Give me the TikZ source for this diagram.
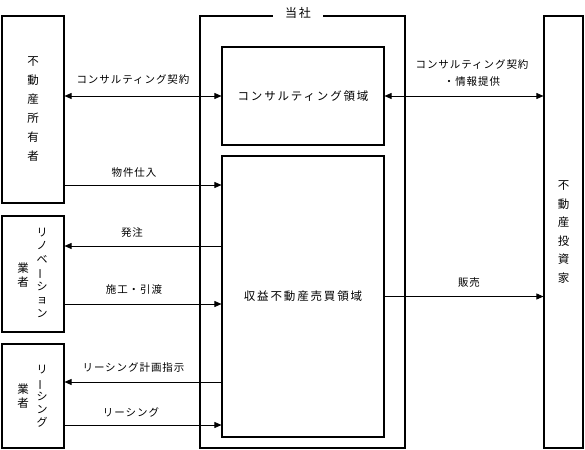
\documentclass[tikz,border=0pt]{standalone}
\usepackage{fontspec}
\usepackage{graphicx}
\setmainfont{Noto Sans CJK JP}
\newfontfamily\boxfont[LetterSpace=16]{Noto Sans CJK JP}
\newfontfamily\linkfont[LetterSpace=9]{Noto Sans CJK JP}
\usetikzlibrary{arrows.meta}
\newcommand{\vchoon}{\rotatebox[origin=c]{90}{ー}}

\begin{document}
\begin{tikzpicture}[x=1pt,y=-1pt,
	>={Triangle[length=7pt,width=6pt]},
	box/.style={draw, line width=1.1pt, inner sep=0pt},
	boxlabel/.style={font=\boxfont\fontsize{11.5}{14}\selectfont},
	vtext/.style={align=center, inner sep=0pt},
	link/.style={draw, line width=0.7pt},
	linklabel/.style={font=\linkfont\fontsize{10.5}{17}\selectfont, align=center, inner sep=0pt},
	title/.style={fill=white, inner xsep=12pt, inner ysep=2pt, font=\boxfont\fontsize{12}{14}\selectfont}]
	\useasboundingbox (0,0) rectangle (585,449);
	\node[box, minimum width=205, minimum height=432] (company) at (302.5,232) {};
	\node[title] (companyname) at (298,13) {当社};
	\node[box, boxlabel, minimum width=162, minimum height=98] (consult) at (303,96) {コンサルティング領域};
	\node[box, boxlabel, minimum width=162, minimum height=281] (deal) at (303,296.5) {収益不動産売買領域};
	\node[box, vtext, font=\fontsize{11.5}{19}\selectfont, minimum width=62, minimum height=187] (owner) at (33,109.5) {不\\動\\産\\所\\有\\者};
	\node[box, minimum width=62, minimum height=116] (reno) at (33,274) {};
	\node[vtext, font=\fontsize{11}{13.5}\selectfont] (renoname) at (42,272.5) {リ\\ノ\\ベ\\\vchoon\\シ\\ョ\\ン};
	\node[vtext, font=\fontsize{11.5}{14}\selectfont] (renojob) at (23,275) {業\\者};
	\node[box, minimum width=62, minimum height=104] (lease) at (33,396) {};
	\node[vtext, font=\fontsize{11}{13.25}\selectfont] (leasename) at (42,396.5) {リ\\\vchoon\\シ\\ン\\グ};
	\node[vtext, font=\fontsize{11.5}{14}\selectfont] (leasejob) at (23,396.5) {業\\者};
	\node[box, vtext, font=\fontsize{11.5}{18.5}\selectfont, minimum width=39, minimum height=432] (investor) at (563.5,232) {不\\動\\産\\投\\資\\家};

	\draw[link, <->] (owner.east |- consult.west) -- (consult.west);
	\node[linklabel] (contractlbl) at (133,80) {コンサルティング契約};
	\draw[link, ->] (owner.east |- 0,185) -- (deal.west |- 0,185);
	\node[linklabel] (buylbl) at (134,173) {物件仕入};
	\draw[link, ->] (deal.west |- 0,246) -- (reno.east |- 0,246);
	\node[linklabel] (orderlbl) at (132,233) {発注};
	\draw[link, ->] (reno.east |- 0,304) -- (deal.west |- 0,304);
	\node[linklabel] (worklbl) at (134,290) {施工・引渡};
	\draw[link, ->] (deal.west |- 0,382) -- (lease.east |- 0,382);
	\node[linklabel] (planlbl) at (133.5,368) {リーシング計画指示};
	\draw[link, ->] (lease.east |- 0,425) -- (deal.west |- 0,425);
	\node[linklabel] (leaselbl) at (131,412) {リーシング};

	\draw[link, <->] (consult.east) -- (investor.west |- consult.east);
	\node[linklabel] (infolbl) at (472,73.5) {コンサルティング契約\\・情報提供};
	\draw[link, ->] (deal.east) -- (investor.west |- deal.east);
	\node[linklabel] (salelbl) at (469,283) {販売};
\end{tikzpicture}
\end{document}
